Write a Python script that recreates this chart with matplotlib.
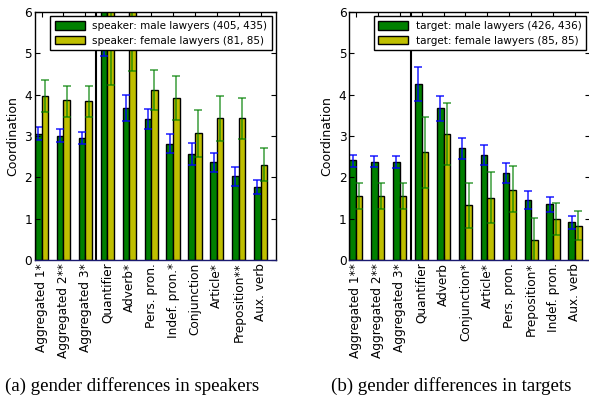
import matplotlib
matplotlib.use("Agg")
import matplotlib.pyplot as plt
import numpy as np

# ---- data ----
spk_labels = ["Aggregated 1*", "Aggregated 2**", "Aggregated 3*", "Quantifier", "Adverb*",
              "Pers. pron.", "Indef. pron.*", "Conjunction", "Article*", "Preposition**", "Aux. verb"]
spk_male = [3.06, 3.01, 2.95, 6.4, 3.67, 3.42, 2.81, 2.56, 2.37, 2.03, 1.77]
spk_male_lo = [2.90, 2.85, 2.80, 4.94, 3.37, 3.17, 2.58, 2.30, 2.12, 1.79, 1.59]
spk_male_hi = [3.22, 3.17, 3.10, 5.87, 3.98, 3.65, 3.04, 2.83, 2.60, 2.24, 1.94]
spk_female = [3.97, 3.86, 3.84, 6.8, 6.4, 4.12, 3.93, 3.07, 3.43, 3.43, 2.31]
spk_female_lo = [3.59, 3.47, 3.46, 4.23, 4.58, 3.63, 3.38, 2.49, 2.88, 2.92, 1.90]
spk_female_hi = [4.35, 4.22, 4.20, 9.0, 8.2, 4.59, 4.46, 3.64, 3.97, 3.93, 2.71]

tgt_labels = ["Aggregated 1**", "Aggregated 2**", "Aggregated 3*", "Quantifier", "Adverb",
              "Conjunction*", "Article*", "Pers. pron.", "Preposition*", "Indef. pron.", "Aux. verb"]
tgt_male = [2.42, 2.37, 2.37, 4.26, 3.67, 2.71, 2.54, 2.10, 1.45, 1.35, 0.93]
tgt_male_lo = [2.25, 2.24, 2.23, 3.84, 3.37, 2.44, 2.29, 1.86, 1.23, 1.15, 0.76]
tgt_male_hi = [2.55, 2.51, 2.51, 4.66, 3.97, 2.96, 2.79, 2.35, 1.68, 1.53, 1.07]
tgt_female = [1.56, 1.56, 1.56, 2.61, 3.04, 1.32, 1.51, 1.70, 0.48, 1.00, 0.83]
tgt_female_lo = [1.24, 1.24, 1.24, 1.75, 2.29, 0.78, 0.90, 1.16, -0.05, 0.60, 0.48]
tgt_female_hi = [1.87, 1.87, 1.87, 3.45, 3.79, 1.87, 2.12, 2.27, 1.02, 1.39, 1.18]

spk_legend = ["speaker: male lawyers (405, 435)", "speaker: female lawyers (81, 85)"]
tgt_legend = ["target: male lawyers (426, 436)", "target: female lawyers (85, 85)"]
captions = ["(a) gender differences in speakers", "(b) gender differences in targets"]

W, H = 589, 408
fig = plt.figure(figsize=(W / 100, H / 100), dpi=100)

def px_axes(x0, x1, y0, y1):
    return fig.add_axes([x0 / W, 1 - y1 / H, (x1 - x0) / W, (y1 - y0) / H])

ax1 = px_axes(35, 276, 12, 260)
ax2 = px_axes(349.3, 590.3, 12, 260)

def draw(ax, labels, m, mlo, mhi, f, flo, fhi, leg):
    n = len(labels)
    ind = np.arange(n)
    w = 0.3
    m = np.array(m); f = np.array(f)
    ax.bar(ind, m, w, align='edge', color='g', edgecolor='k', linewidth=1.0, label=leg[0])
    ax.bar(ind + w, f, w, align='edge', color='y', edgecolor='k', linewidth=1.0, label=leg[1])
    # error bars drawn from CI bounds
    ax.errorbar(ind + w / 2, np.array(mlo), yerr=[np.zeros(n), np.array(mhi) - np.array(mlo)],
                fmt='none', ecolor='b', elinewidth=1.3, capsize=2.6, capthick=1.3, alpha=0.75)
    ax.errorbar(ind + 1.5 * w, np.array(flo), yerr=[np.zeros(n), np.array(fhi) - np.array(flo)],
                fmt='none', ecolor='g', elinewidth=1.3, capsize=2.6, capthick=1.3, alpha=0.65)
    ax.axvline(2.8, color='k', lw=1.5)
    ax.set_xlim(0, 11)
    ax.set_ylim(0, 6)
    ax.set_xticks(ind + w)
    ax.set_xticklabels(labels, rotation=90, fontsize=8.7)
    ax.set_yticks(range(7))
    ax.tick_params(axis='both', direction='in', top=True, right=True, length=3.5, width=0.8,
                   labelsize=8.7, pad=2)
    ax.set_ylabel("Coordination", fontsize=9, labelpad=4)
    for s in ax.spines.values():
        s.set_linewidth(1.0)
    ax.spines['bottom'].set_color('#1a1a70')
    lg = ax.legend(loc='upper right', fontsize=7.5, fancybox=False, framealpha=1,
                   edgecolor='k', borderaxespad=0.4, handlelength=2.9, handleheight=0.9,
                   borderpad=0.45, labelspacing=0.45, handletextpad=0.7)
    lg.get_frame().set_linewidth(1.0)

draw(ax1, spk_labels, spk_male, spk_male_lo, spk_male_hi, spk_female, spk_female_lo, spk_female_hi, spk_legend)
draw(ax2, tgt_labels, tgt_male, tgt_male_lo, tgt_male_hi, tgt_female, tgt_female_lo, tgt_female_hi, tgt_legend)

fig.text(132 / W, 1 - 386 / H, captions[0], ha='center', va='center',
         fontsize=13.6, family='Liberation Serif')
fig.text(451 / W, 1 - 386 / H, captions[1], ha='center', va='center',
         fontsize=13.6, family='Liberation Serif')

fig.savefig("out.png", dpi=100)
